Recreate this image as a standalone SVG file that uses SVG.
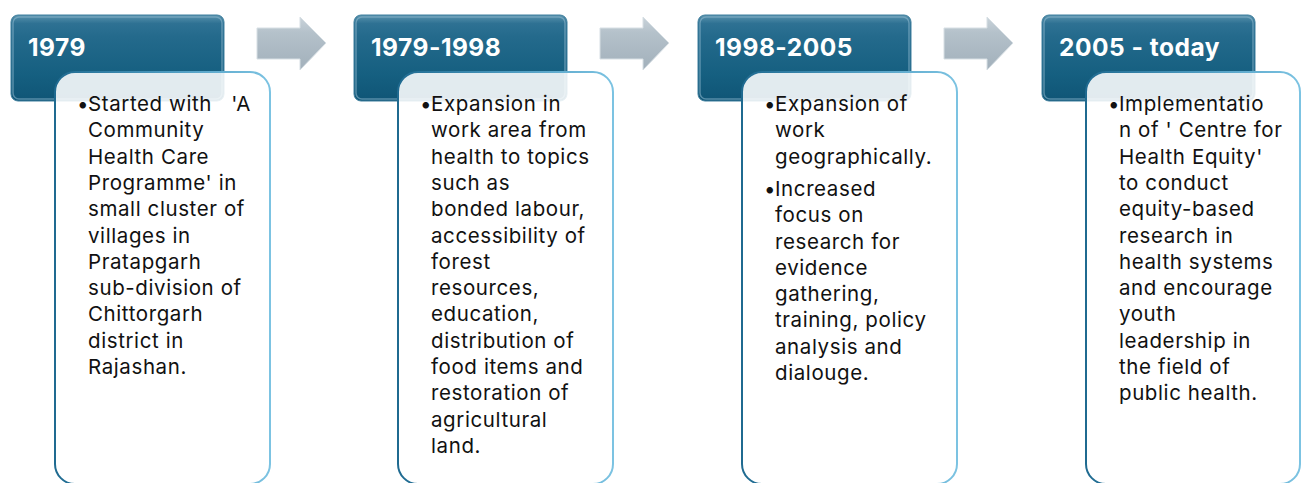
<svg xmlns="http://www.w3.org/2000/svg" width="1301" height="483" viewBox="0 0 1301 483">
  <defs>
    <linearGradient id="hdrFill" x1="0" y1="0" x2="0" y2="1">
      <stop offset="0" stop-color="#5a93ad"/>
      <stop offset="0.1" stop-color="#2e7193"/>
      <stop offset="0.25" stop-color="#246a8c"/>
      <stop offset="0.7" stop-color="#155f80"/>
      <stop offset="1" stop-color="#0f5576"/>
    </linearGradient>
    <linearGradient id="boxStroke" x1="0" y1="0" x2="1" y2="0">
      <stop offset="0" stop-color="#1f6a90"/>
      <stop offset="0.5" stop-color="#4a98bd"/>
      <stop offset="1" stop-color="#7cc3e2"/>
    </linearGradient>
    <linearGradient id="arrowFill" x1="0" y1="0" x2="0" y2="1">
      <stop offset="0" stop-color="#c9d3da"/>
      <stop offset="0.3" stop-color="#b4c1ca"/>
      <stop offset="1" stop-color="#a2b0bb"/>
    </linearGradient>
    <style>
      .hdr { fill: url(#hdrFill); stroke: #3f7f9e; stroke-width: 1; }
      .hdr-gloss { fill: none; stroke: #8fbad0; stroke-opacity: 0.55; stroke-width: 1.5; }
      .hdr-text { font-family: Inter, "Liberation Sans", sans-serif; font-weight: 700; font-size: 24.5px; letter-spacing: 0.5px; fill: #ffffff; }
      .box { fill: #ffffff; fill-opacity: 0.88; stroke: url(#boxStroke); stroke-width: 2; }
      .body { font-family: Inter, "Liberation Sans", sans-serif; font-size: 20.5px; letter-spacing: 0.6px; fill: #111111; white-space: pre; }
      .arrow { fill: url(#arrowFill); stroke: #d7dfe4; stroke-width: 1; }
    </style>
    <path id="arrowShape" d="M0,11 H43 V0 L69,26 L43,53 V42 H0 Z"/>
  </defs>

  <!-- progression arrows between stages -->
  <g id="connectors">
    <use href="#arrowShape" class="arrow" x="257" y="17"/>
    <use href="#arrowShape" class="arrow" x="600" y="17"/>
    <use href="#arrowShape" class="arrow" x="944" y="17"/>
  </g>

  <!-- stage 1 -->
  <g id="stage-1979">
    <rect class="hdr" x="11" y="15" width="213" height="86" rx="7"/>
    <rect class="hdr-gloss" x="13" y="17" width="209" height="82" rx="6"/>
    <text class="hdr-text" x="28" y="56">1979</text>
    <rect class="box" x="55" y="72" width="215" height="412" rx="20"/>
    <text class="body" x="88" y="111">
      <tspan x="77">•</tspan><tspan x="88">Started with   'A</tspan>
      <tspan x="88" dy="26.3">Community</tspan>
      <tspan x="88" dy="26.3">Health Care</tspan>
      <tspan x="88" dy="26.3">Programme' in</tspan>
      <tspan x="88" dy="26.3">small cluster of</tspan>
      <tspan x="88" dy="26.3">villages in</tspan>
      <tspan x="88" dy="26.3">Pratapgarh</tspan>
      <tspan x="88" dy="26.3">sub-division of</tspan>
      <tspan x="88" dy="26.3">Chittorgarh</tspan>
      <tspan x="88" dy="26.3">district in</tspan>
      <tspan x="88" dy="26.3">Rajashan.</tspan>
    </text>
  </g>

  <!-- stage 2 -->
  <g id="stage-1979-1998">
    <rect class="hdr" x="354" y="15" width="213" height="86" rx="7"/>
    <rect class="hdr-gloss" x="356" y="17" width="209" height="82" rx="6"/>
    <text class="hdr-text" x="371" y="56">1979-1998</text>
    <rect class="box" x="398" y="72" width="215" height="412" rx="20"/>
    <text class="body" x="431" y="111">
      <tspan x="420">•</tspan><tspan x="431">Expansion in</tspan>
      <tspan x="431" dy="26.3">work area from</tspan>
      <tspan x="431" dy="26.3">health to topics</tspan>
      <tspan x="431" dy="26.3">such as</tspan>
      <tspan x="431" dy="26.3">bonded labour,</tspan>
      <tspan x="431" dy="26.3">accessibility of</tspan>
      <tspan x="431" dy="26.3">forest</tspan>
      <tspan x="431" dy="26.3">resources,</tspan>
      <tspan x="431" dy="26.3">education,</tspan>
      <tspan x="431" dy="26.3">distribution of</tspan>
      <tspan x="431" dy="26.3">food items and</tspan>
      <tspan x="431" dy="26.3">restoration of</tspan>
      <tspan x="431" dy="26.3">agricultural</tspan>
      <tspan x="431" dy="26.3">land.</tspan>
    </text>
  </g>

  <!-- stage 3 -->
  <g id="stage-1998-2005">
    <rect class="hdr" x="698" y="15" width="213" height="86" rx="7"/>
    <rect class="hdr-gloss" x="700" y="17" width="209" height="82" rx="6"/>
    <text class="hdr-text" x="715" y="56">1998-2005</text>
    <rect class="box" x="742" y="72" width="215" height="412" rx="20"/>
    <text class="body" x="775" y="111">
      <tspan x="764">•</tspan><tspan x="775">Expansion of</tspan>
      <tspan x="775" dy="26.3">work</tspan>
      <tspan x="775" dy="26.3">geographically.</tspan>
      <tspan x="764" dy="32.3">•</tspan><tspan x="775">Increased</tspan>
      <tspan x="775" dy="26.3">focus on</tspan>
      <tspan x="775" dy="26.3">research for</tspan>
      <tspan x="775" dy="26.3">evidence</tspan>
      <tspan x="775" dy="26.3">gathering,</tspan>
      <tspan x="775" dy="26.3">training, policy</tspan>
      <tspan x="775" dy="26.3">analysis and</tspan>
      <tspan x="775" dy="26.3">dialouge.</tspan>
    </text>
  </g>

  <!-- stage 4 -->
  <g id="stage-2005-today">
    <rect class="hdr" x="1042" y="15" width="213" height="86" rx="7"/>
    <rect class="hdr-gloss" x="1044" y="17" width="209" height="82" rx="6"/>
    <text class="hdr-text" x="1059" y="56">2005 - today</text>
    <rect class="box" x="1086" y="72" width="214" height="412" rx="20"/>
    <text class="body" x="1119" y="111">
      <tspan x="1108">•</tspan><tspan x="1119">Implementatio</tspan>
      <tspan x="1119" dy="26.3">n of ' Centre for</tspan>
      <tspan x="1119" dy="26.3">Health Equity'</tspan>
      <tspan x="1119" dy="26.3">to conduct</tspan>
      <tspan x="1119" dy="26.3">equity-based</tspan>
      <tspan x="1119" dy="26.3">research in</tspan>
      <tspan x="1119" dy="26.3">health systems</tspan>
      <tspan x="1119" dy="26.3">and encourage</tspan>
      <tspan x="1119" dy="26.3">youth</tspan>
      <tspan x="1119" dy="26.3">leadership in</tspan>
      <tspan x="1119" dy="26.3">the field of</tspan>
      <tspan x="1119" dy="26.3">public health.</tspan>
    </text>
  </g>
</svg>
